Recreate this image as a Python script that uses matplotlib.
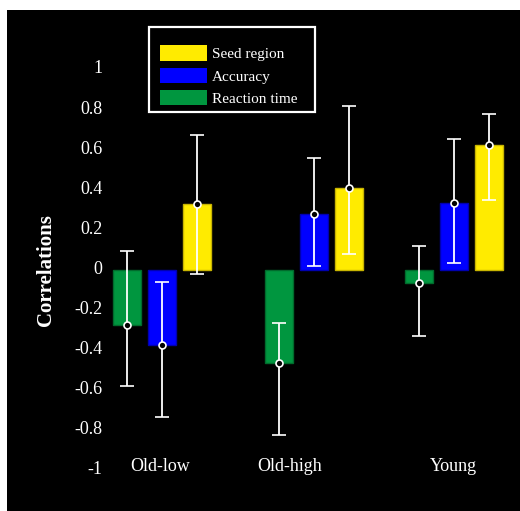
import matplotlib
matplotlib.use('Agg')
import matplotlib.pyplot as plt
import matplotlib.transforms as mtransforms
from matplotlib.patches import Rectangle, Patch
import numpy as np

plt.rcParams['font.family'] = ['Liberation Serif', 'DejaVu Serif']

# Correlations per group, with the lower / upper confidence limits
groups = ['Old-low', 'Old-high', 'Young']
rt = [-0.274, -0.463, -0.065]
rt_lo = [-0.577, -0.823, -0.328]
rt_hi = [0.095, -0.263, 0.121]
acc = [-0.374, 0.281, 0.336]
acc_lo = [-0.733, 0.021, 0.036]
acc_hi = [-0.058, 0.559, 0.655]
seed = [0.327, 0.407, 0.625]
seed_lo = [-0.018, 0.078, 0.351]
seed_hi = [0.675, 0.820, 0.778]

yticks = [1, 0.8, 0.6, 0.4, 0.2, 0, -0.2, -0.4, -0.6, -0.8, -1]
ytick_labels = ['1', '0.8', '0.6', '0.4', '0.2', '0', '-0.2', '-0.4', '-0.6', '-0.8', '-1']

colors = {'Seed region': '#FFEB00', 'Accuracy': '#0000FF', 'Reaction time': '#00963F'}
edges = {'Seed region': '#C8B400', 'Accuracy': '#0000B0', 'Reaction time': '#006B2C'}

# group centres and label positions (in bar-spacing units)
group_x = np.array([0.0, 4.357, 8.34])
label_x = [-0.06, 3.66, 8.34]
width = 0.8

W, H = 520, 511
fig = plt.figure(figsize=(W / 100, H / 100), dpi=100, facecolor='white')
fig.patches.append(Rectangle((7 / W, 0), 1 - 7 / W, 1 - 10 / H, transform=fig.transFigure,
                             facecolor='black', edgecolor='none', zorder=-10))

ax = fig.add_axes([109.5 / W, (H - 480.5) / H, 402.5 / W, 441.1 / H])
ax.set_facecolor('none')
ax.set_xlim(-1.5, 10)
ax.set_ylim(-1.05, 1.15)
for s in ax.spines.values():
    s.set_visible(False)

series = [('Reaction time', rt, rt_lo, rt_hi, -1),
          ('Accuracy', acc, acc_lo, acc_hi, 0),
          ('Seed region', seed, seed_lo, seed_hi, 1)]
for name, vals, lo, hi, off in series:
    vals = np.array(vals)
    xs = group_x + off
    ax.bar(xs, vals, width=width, color=colors[name], edgecolor=edges[name], linewidth=1, zorder=2)
    yerr = np.vstack([vals - np.array(lo), np.array(hi) - vals])
    ax.errorbar(xs, vals, yerr=yerr, fmt='o', color='white', ecolor='white', elinewidth=1.3,
                capsize=4.8, capthick=1.3, markersize=5, markerfacecolor='black',
                markeredgecolor='white', markeredgewidth=1.2, zorder=3)

ax.set_yticks(yticks)
ax.set_yticklabels(ytick_labels)
ax.set_xticks(label_x)
ax.set_xticklabels(groups)
ax.tick_params(axis='y', length=0, pad=5, labelsize=13, labelcolor='white')
ax.tick_params(axis='x', length=0, pad=-16, labelsize=13, labelcolor='white')

# tick labels sit a little above their values
shift = mtransforms.ScaledTranslation(0, 2.5 / 100, fig.dpi_scale_trans)
for lab in ax.get_yticklabels():
    lab.set_transform(lab.get_transform() + shift)

fig.text(45.5 / W, 1 - 270 / H, 'Correlations', rotation=90, ha='center', va='center',
         fontsize=15, fontweight='bold', color='white')

# legend frame and entries
fig.patches.append(Rectangle((149 / W, 1 - 112 / H), 166 / W, 85.3 / H, transform=fig.transFigure,
                             facecolor='black', edgecolor='white', linewidth=1.6, zorder=3))
handles = [Patch(facecolor=colors[n], edgecolor='none') for n in ['Seed region', 'Accuracy', 'Reaction time']]
leg = fig.legend(handles, ['Seed region', 'Accuracy', 'Reaction time'], loc='upper left',
                 bbox_to_anchor=(159.5 / W, 1 - 45.5 / H), bbox_transform=fig.transFigure,
                 frameon=False, fontsize=11, handlelength=3.08, handleheight=1.2,
                 handletextpad=0.33, labelspacing=0.4, borderpad=0, borderaxespad=0)
for t in leg.get_texts():
    t.set_color('white')
leg.set_zorder(4)

fig.savefig('out.png', dpi=100, facecolor=fig.get_facecolor())
